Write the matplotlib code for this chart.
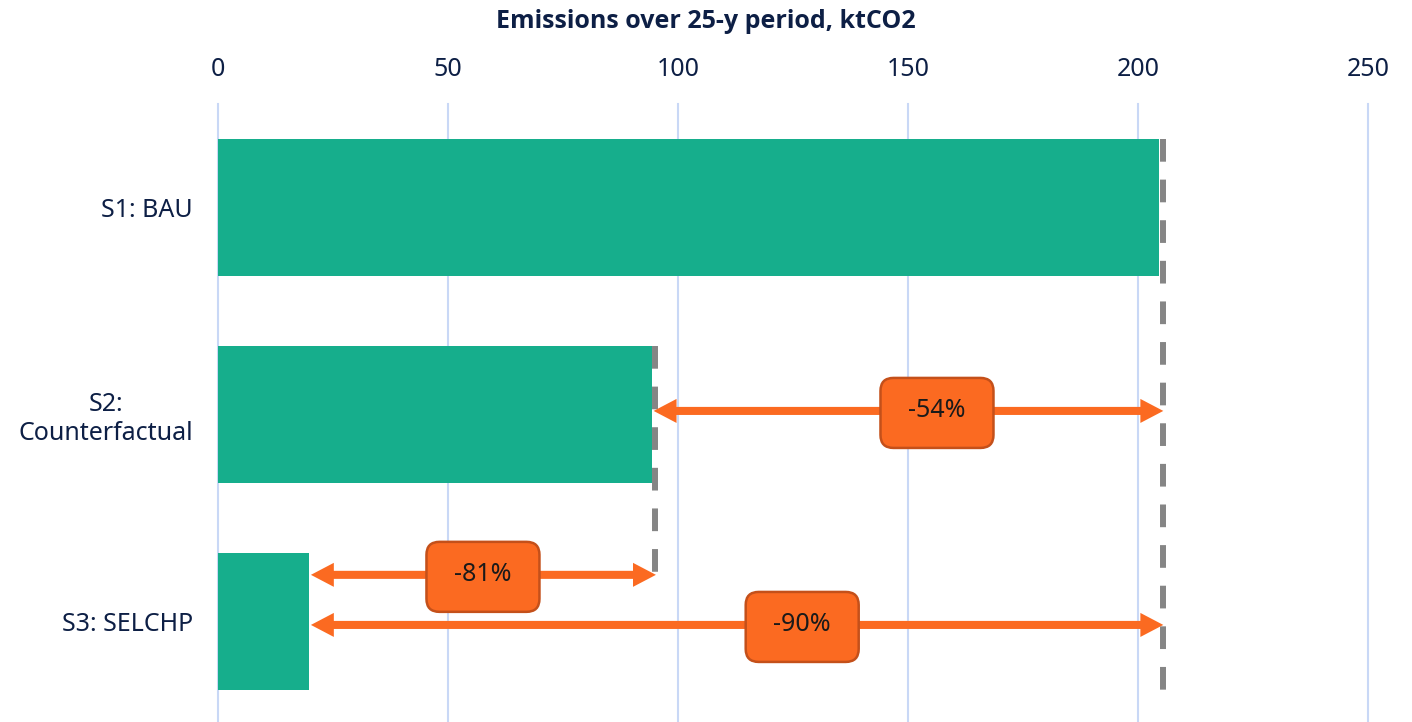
import matplotlib
matplotlib.use("Agg")
import matplotlib.pyplot as plt
from matplotlib.patches import FancyBboxPatch
from matplotlib.transforms import ScaledTranslation

# scenario results, emissions over 25 years (ktCO2)
scenarios = ["S1: BAU", "S2:\nCounterfactual", "S3: SELCHP"]
emissions = [204.6, 94.3, 19.8]
xticks = [0, 50, 100, 150, 200, 250]

# reduction arrows: (from bar, to reference bar, label)
reductions = [(1, 0, "-54%"), (2, 1, "-81%"), (2, 0, "-90%")]

navy = "#0d1f45"
teal = "#16ae8c"
orange = "#fb6a21"
grey = "#858585"

plt.rcParams["font.family"] = ["Noto Sans", "DejaVu Sans"]

fig = plt.figure(figsize=(14.12, 7.22), dpi=100)
ax = fig.add_axes([218 / 1412, 0, 1150 / 1412, 1 - 104 / 722])

ypos = list(range(len(scenarios)))
ax.barh(ypos, emissions, height=0.66, color=teal, zorder=2)

ax.set_xlim(0, 250)
ax.set_ylim(2.486, -0.5)
ax.set_xticks(xticks)
ax.set_yticks(ypos)
ax.set_yticklabels(scenarios)
ax.xaxis.tick_top()
ax.tick_params(axis="x", length=0, pad=16, labelsize=18, labelcolor=navy)
ax.tick_params(axis="y", length=0, pad=18, labelsize=18, labelcolor=navy)
for lab in ax.get_yticklabels():
    lab.set_multialignment("center")
for s in ax.spines.values():
    s.set_visible(False)
ax.grid(axis="x", color="#c9d8f6", lw=1.5, zorder=0)
for gl in ax.get_xgridlines():
    gl.set_clip_on(False)

fig.text(0.5, 1 - 22 / 722, "Emissions over 25-y period, ktCO2", ha="center", va="center",
         fontsize=18, fontweight="bold", color=navy, family=["Open Sans", "DejaVu Sans"])

# dashed reference lines at the end of S1 and S2
ax.vlines(emissions[0] + 0.8, -0.33, 2.40, colors=grey, lw=4.3,
          linestyles=(0, (3.8, 3.0)), zorder=3)
ax.vlines(emissions[1] + 0.8, 0.67, 1.80, colors=grey, lw=4.3,
          linestyles=(0, (3.8, 3.0)), zorder=3)

arrow_y = {(1, 0): 0.983, (2, 1): 1.775, (2, 0): 2.017}
box_x = {(1, 0): 156.3, (2, 1): 57.6, (2, 0): 127.0}
style = "simple,head_length=16.5,head_width=17.3,tail_width=5.8"
bw, bh = 1.13, 0.70  # label box size, inches
for lo, hi, label in reductions:
    y = arrow_y[(lo, hi)]
    x0 = emissions[lo] + 0.4
    x1 = emissions[hi] + 0.9
    xm = box_x[(lo, hi)]
    for xe in (x0, x1):
        ax.annotate("", xy=(xe, y), xytext=(xm, y),
                    arrowprops=dict(arrowstyle=style, mutation_scale=1, lw=0,
                                    color=orange, shrinkA=0, shrinkB=0), zorder=4)
    tr = fig.dpi_scale_trans + ScaledTranslation(xm, y, ax.transData)
    box = FancyBboxPatch((-bw / 2, -bh / 2 - 0.02), bw, bh,
                         boxstyle="round,pad=0,rounding_size=0.13",
                         fc=orange, ec="#c4501a", lw=1.8, transform=tr, zorder=5)
    ax.add_patch(box)
    ax.text(xm, y, label, ha="center", va="center", fontsize=18, color="#1a1a1a", zorder=6)

fig.savefig("out.png", dpi=100)
